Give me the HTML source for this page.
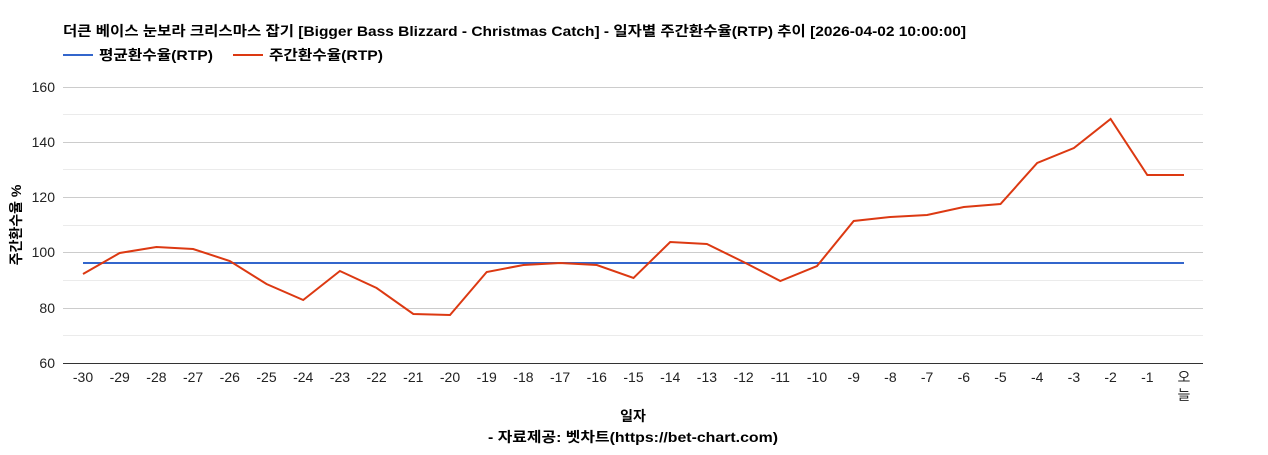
<!DOCTYPE html>
<html><head><meta charset="utf-8"><style>
body{margin:0;background:#fff;}
svg text{font-family:"Liberation Sans","Noto Sans CJK KR",sans-serif;}
</style></head><body>
<svg width="1268" height="450" xmlns="http://www.w3.org/2000/svg">
<text x="63" y="36" font-size="14" font-weight="bold" fill="#000" textLength="903" lengthAdjust="spacingAndGlyphs">더큰 베이스 눈보라 크리스마스 잡기 [Bigger Bass Blizzard - Christmas Catch] - 일자별 주간환수율(RTP) 추이 [2026-04-02 10:00:00]</text>
<line x1="63" y1="55" x2="93" y2="55" stroke="#3366cc" stroke-width="2"/>
<text x="99" y="60" font-size="14" font-weight="bold" textLength="114" lengthAdjust="spacingAndGlyphs">평균환수율(RTP)</text>
<line x1="233" y1="55" x2="263" y2="55" stroke="#dc3912" stroke-width="2"/>
<text x="269" y="60" font-size="14" font-weight="bold" textLength="114" lengthAdjust="spacingAndGlyphs">주간환수율(RTP)</text>
<g stroke="#ebebeb" stroke-width="1">
<line x1="63" y1="114.5" x2="1203" y2="114.5"/><line x1="63" y1="169.5" x2="1203" y2="169.5"/><line x1="63" y1="225.5" x2="1203" y2="225.5"/><line x1="63" y1="280.5" x2="1203" y2="280.5"/><line x1="63" y1="335.5" x2="1203" y2="335.5"/>
</g>
<g stroke="#cccccc" stroke-width="1">
<line x1="63" y1="87.5" x2="1203" y2="87.5"/><line x1="63" y1="142.5" x2="1203" y2="142.5"/><line x1="63" y1="197.5" x2="1203" y2="197.5"/><line x1="63" y1="252.5" x2="1203" y2="252.5"/><line x1="63" y1="308.5" x2="1203" y2="308.5"/>
</g>
<line x1="63" y1="363.5" x2="1203" y2="363.5" stroke="#333"/>
<g font-size="14" text-anchor="end" fill="#222">
<text x="55" y="92">160</text><text x="55" y="147">140</text><text x="55" y="202">120</text><text x="55" y="257">100</text><text x="55" y="313">80</text><text x="55" y="368">60</text>
</g>
<text transform="translate(21,225) rotate(-90)" font-size="14" font-weight="bold" text-anchor="middle">주간환수율 %</text>
<g font-size="14" text-anchor="middle" fill="#222">
<text x="83.0" y="382">-30</text><text x="119.7" y="382">-29</text><text x="156.4" y="382">-28</text><text x="193.1" y="382">-27</text><text x="229.8" y="382">-26</text><text x="266.5" y="382">-25</text><text x="303.2" y="382">-24</text><text x="339.9" y="382">-23</text><text x="376.6" y="382">-22</text><text x="413.3" y="382">-21</text><text x="450.0" y="382">-20</text><text x="486.7" y="382">-19</text><text x="523.4" y="382">-18</text><text x="560.1" y="382">-17</text><text x="596.8" y="382">-16</text><text x="633.5" y="382">-15</text><text x="670.2" y="382">-14</text><text x="706.9" y="382">-13</text><text x="743.6" y="382">-12</text><text x="780.3" y="382">-11</text><text x="817.0" y="382">-10</text><text x="853.7" y="382">-9</text><text x="890.4" y="382">-8</text><text x="927.1" y="382">-7</text><text x="963.8" y="382">-6</text><text x="1000.5" y="382">-5</text><text x="1037.2" y="382">-4</text><text x="1073.9" y="382">-3</text><text x="1110.6" y="382">-2</text><text x="1147.3" y="382">-1</text>
<text x="1184" y="382">오</text><text x="1184" y="400">늘</text>
</g>
<text x="633" y="421" font-size="14" font-weight="bold" text-anchor="middle">일자</text>
<text x="633" y="442" font-size="14" font-weight="bold" text-anchor="middle" textLength="290" lengthAdjust="spacingAndGlyphs">- 자료제공: 벳차트(https://bet-chart.com)</text>
<line x1="83" y1="263" x2="1184" y2="263" stroke="#3366cc" stroke-width="2"/>
<polyline fill="none" stroke="#dc3912" stroke-width="2" points="83.0,274 119.7,253 156.4,247 193.1,249 229.8,261 266.5,284 303.2,300 339.9,271 376.6,288 413.3,314 450.0,315 486.7,272 523.4,265 560.1,263 596.8,265 633.5,278 670.2,242 706.9,244 743.6,262 780.3,281 817.0,266 853.7,221 890.4,217 927.1,215 963.8,207 1000.5,204 1037.2,163 1073.9,148 1110.6,119 1147.3,175 1184,175"/>
</svg>
</body></html>
